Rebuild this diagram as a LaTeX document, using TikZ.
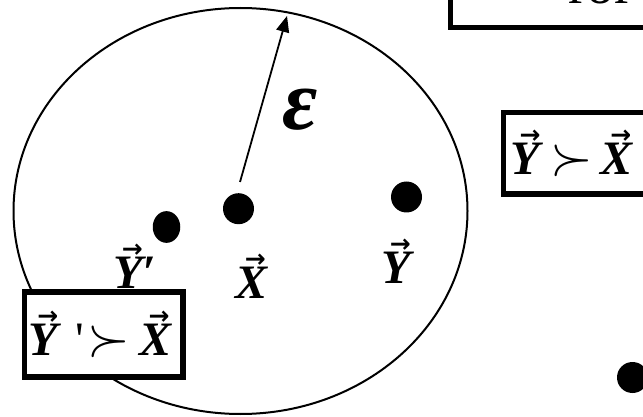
\documentclass[tikz,border=0pt]{standalone}
\usepackage{fontspec}
\setmainfont{Liberation Serif}
\newfontfamily\symfont{DejaVu Sans}
\usetikzlibrary{arrows.meta,shapes.geometric}
\newcommand{\vv}[1]{{\setbox0\hbox{\bfseries\itshape #1}\rlap{\kern0.3\wd0\raisebox{0.64em}{\symfont\bfseries\fontsize{25}{25}\selectfont →}}\box0}}
\newcommand{\sx}{\scalebox{2.2}{$\succ$}}
\begin{document}
\begin{tikzpicture}[x=1pt,y=-1pt,
  every node/.style={inner sep=0pt,font=\fontsize{48}{48}\selectfont},
  dot/.style={fill=black,draw=none},
  relbox/.style={draw,line width=5.5pt,fill=white}]
\useasboundingbox (0,0) rectangle (643,417);
\clip (0,0) rectangle (643,417);
\draw[line width=2pt] (240.5,211) ellipse [x radius=227, y radius=203];

\coordinate (rbase) at (240,182);
\coordinate (rtip) at (287,16);
\draw[line width=1.8pt,-{Triangle[length=16pt,width=13pt]}] (rbase) -- (rtip);
\node (eps) at (300,110) {\fontsize{86}{86}\selectfont\bfseries\itshape ε};

\node[dot,circle,minimum size=31pt] (xdot) at (238.5,208.7) {};
\node[dot,ellipse,minimum width=27.5pt,minimum height=31.7pt] (ypdot) at (166.5,227) {};
\node[dot,circle,minimum size=31pt] (ydot) at (406.5,197) {};
\node[dot,circle,minimum size=31pt] (zdot) at (632.5,377.5) {};

\node[anchor=base west] (xlab) at (235,298) {\vv{X}};
\node[anchor=base west] (ylab) at (381,283) {\vv{Y}};
\node[anchor=base west] (yplab) at (113,288) {\vv{Y}\textbf{\textit{\symbol{"2032}}}};

\node[relbox,minimum width=158.7pt,minimum height=85.4pt] (ypbox) at (103.8,334.5)
  {\vv{Y}\kern18pt\textquotesingle\kern3pt\sx\kern9pt\vv{X}\kern8pt};
\node[relbox,anchor=west,minimum height=81.5pt,text width=200pt,align=left,inner xsep=7.25pt] (ybox)
  at (500.8,153.5) {\vv{Y}\kern10pt\sx\kern8pt\vv{X}};
\node[relbox,anchor=south west,minimum width=300pt,minimum height=100pt] (errbox) at (447.8,30.2) {};
\node[anchor=base west,font=\fontsize{56}{56}\selectfont] (errtxt) at (568,4) {ror};
\end{tikzpicture}
\end{document}
